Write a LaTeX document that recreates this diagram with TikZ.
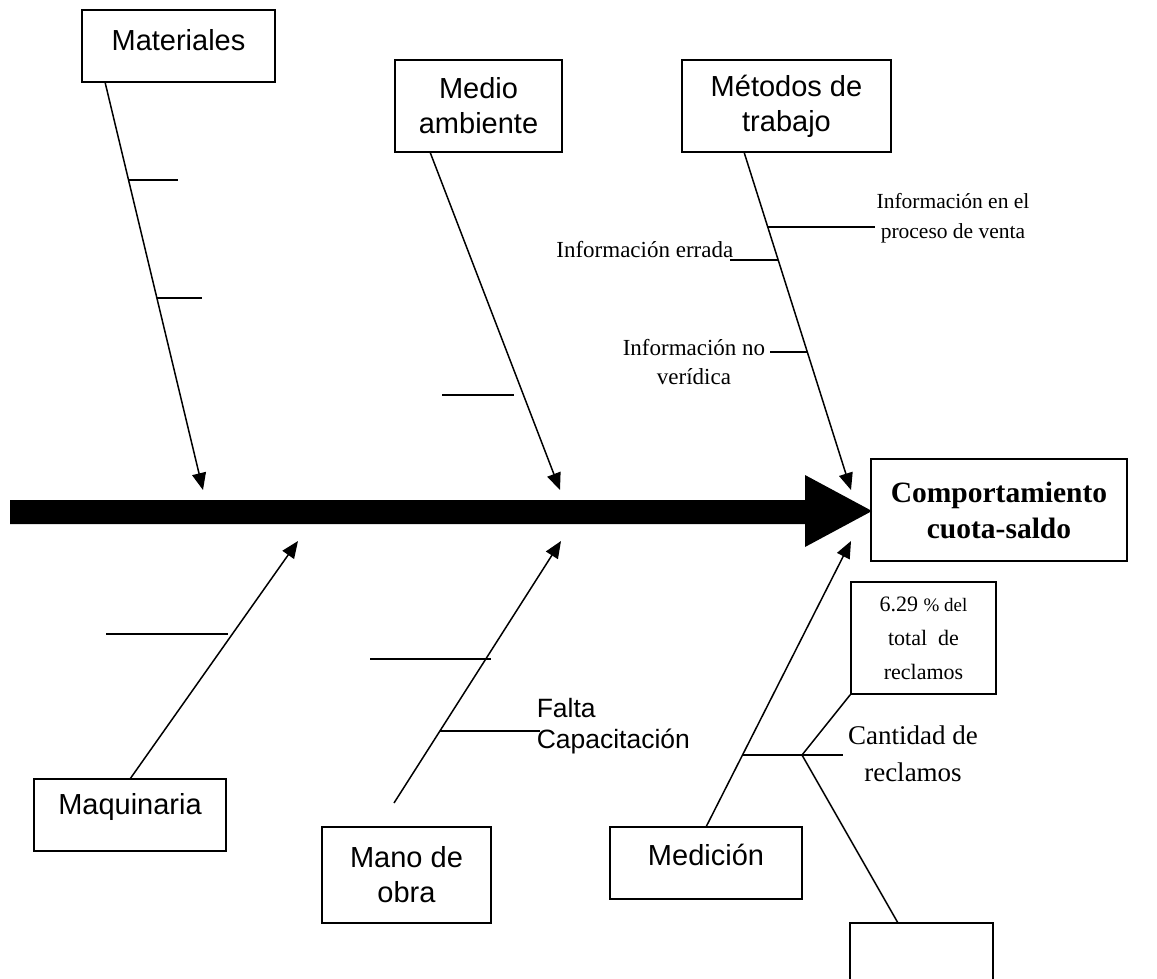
\documentclass[tikz,border=0pt]{standalone}
\usepackage{fontspec}
\setmainfont{Liberation Serif}
\setsansfont{Liberation Sans}
\usetikzlibrary{arrows.meta}
\begin{document}
\begin{tikzpicture}[x=1pt,y=-1pt,
  line width=1.5pt,
  catbox/.style={draw, line width=1.6pt, rectangle, inner sep=0pt, align=center,
    font=\sffamily\fontsize{29}{35}\selectfont},
  sanslbl/.style={inner sep=0pt, font=\sffamily\fontsize{29}{35}\selectfont},
  serlbl/.style={inner sep=0pt, align=center, font=\rmfamily\fontsize{23}{29}\selectfont},
  bone/.style={line width=1.5pt, -{Triangle[length=17pt,width=14pt]}},
  twig/.style={line width=1.5pt}]
\useasboundingbox (0,0) rectangle (1157,978);
\clip (0,0) rectangle (1157,978);

% spine with its wide head
\fill[black] (10,500) -- (805,500) -- (805,475) -- (872,511) -- (805,547)
  -- (805,524) -- (10,524) -- cycle;

% effect
\node[draw, line width=1.6pt, minimum width=256, minimum height=102, inner sep=0pt,
  align=center, font=\rmfamily\bfseries\fontsize{29.5}{36}\selectfont]
  (effect) at (999,510) {Comportamiento\\cuota-saldo};

% top categories
\node[draw, line width=1.6pt, minimum width=193, minimum height=72] (mat) at (178.5,46) {};
\node[sanslbl] (matT) at (178.5,40) {Materiales};
\node[catbox, minimum width=167, minimum height=92] (med) at (478.5,106) {Medio\\ambiente};
\node[catbox, minimum width=209, minimum height=92] (met) at (786.5,106) {Métodos de\\trabajo};

% bottom categories
\node[draw, line width=1.6pt, minimum width=192, minimum height=72] (maq) at (130,815) {};
\node[sanslbl] (maqT) at (130,807) {Maquinaria};
\node[catbox, minimum width=169, minimum height=96] (mano) at (406.5,875) {Mano de\\obra};
\node[draw, line width=1.6pt, minimum width=192, minimum height=72] (medic) at (706,863) {};
\node[sanslbl] (medicT) at (706,855) {Medición};

% measurement boxes
\node[draw, line width=1.6pt, minimum width=145, minimum height=112, inner sep=0pt,
  align=center, font=\rmfamily\fontsize{22}{34}\selectfont]
  (pct) at (923.5,638) {6.29 {\fontsize{19}{34}\selectfont\% del}\\total\ \ de\\reclamos};
\node[draw, line width=1.6pt, minimum width=143, minimum height=100, inner sep=0pt]
  (blank) at (921.5,973) {};

% bone end points
\coordinate (matA) at (105,82);   \coordinate (matZ) at (203,490);
\coordinate (medA) at (430,152);  \coordinate (medZ) at (560,490);
\coordinate (metA) at (744,152);  \coordinate (metZ) at (851,490);
\coordinate (maqA) at (130,779);  \coordinate (maqZ) at (298,541);
\coordinate (manoA) at (394,803); \coordinate (manoZ) at (561,541);
\coordinate (medicA) at (706,827);\coordinate (medicZ) at (851,541);
\coordinate (fork) at (802,755);

\draw[bone] (matA) -- (matZ);
\draw[bone] (medA) -- (medZ);
\draw[bone] (metA) -- (metZ);
\draw[bone] (maqA) -- (maqZ);
\draw[bone] (manoA) -- (manoZ);
\draw[bone] (medicA) -- (medicZ);

% sub-causes
\draw[twig] (128.5,180) -- (178,180);
\draw[twig] (157,298) -- (202,298);
\draw[twig] (442,395) -- (514,395);
\draw[twig] (768,227) -- (875,227);
\draw[twig] (730,260) -- (778,260);
\draw[twig] (770,352) -- (807,352);
\draw[twig] (106,634) -- (228,634);
\draw[twig] (370,659) -- (491,659);
\draw[twig] (440,731) -- (540,731);
\draw[twig] (743,755) -- (843,755);
\draw[twig] (fork) -- (pct.south west);
\draw[twig] (fork) -- (898,923);

% sub-cause labels
\node[serlbl, font=\rmfamily\fontsize{21.5}{30}\selectfont] (lblVenta) at (953,218)
  {Información en el\\proceso de venta};
\node[serlbl, anchor=base east, font=\rmfamily\fontsize{23}{30}\selectfont]
  (lblErr) at (734,257) {Información errada};
\node[serlbl, font=\rmfamily\fontsize{23}{29}\selectfont] (lblNo) at (694,362)
  {Información no\\verídica};
\node[sanslbl, align=left, anchor=west, font=\sffamily\fontsize{26.5}{31}\selectfont]
  (lblFalta) at (536,726) {Falta\\Capacitación};
\node[serlbl, font=\rmfamily\fontsize{27}{37}\selectfont] (lblCant) at (913,754)
  {Cantidad de\\reclamos};
\end{tikzpicture}
\end{document}
